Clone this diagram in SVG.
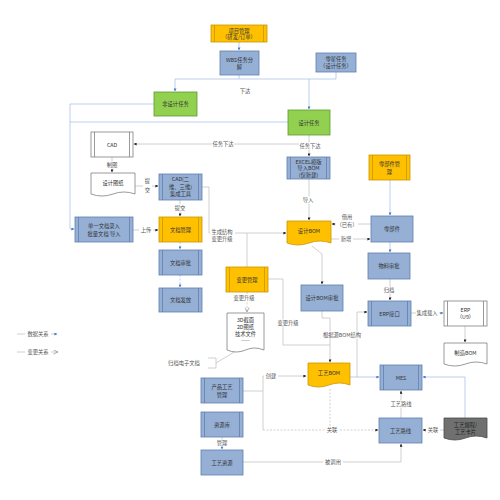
<svg xmlns="http://www.w3.org/2000/svg" width="500" height="500" viewBox="0 0 500 500">
<style>
text{font-family:"Noto Sans CJK SC","Liberation Sans",sans-serif;font-size:5.3px;fill:#333;text-anchor:middle;dominant-baseline:central}
.b{fill:#95afd5;stroke:#5f7fae;stroke-width:0.8}
.o{fill:#ffc000;stroke:#c99700;stroke-width:0.8}
.g{fill:#92d050;stroke:#5f9a30;stroke-width:0.8}
.w{fill:#fff;stroke:#808080;stroke-width:0.8}
.k{fill:#707070;stroke:#4a4a4a;stroke-width:0.8}
.bar{stroke-width:0.8;fill:none}
.c{fill:none;stroke:#c4c4c4;stroke-width:0.8}
.cb{fill:none;stroke:#a9c3e6;stroke-width:0.8}
.d{stroke-dasharray:2 1.5}
.lb{fill:#555}
.bg{fill:#fff;stroke:none}
</style>
<defs>
<marker id="dot" viewBox="0 0 4 4" refX="3.5" refY="2" markerWidth="3" markerHeight="3" orient="auto" markerUnits="userSpaceOnUse"><path d="M0,0 L4,2 L0,4 Z" fill="#222"/></marker>
<marker id="blu" viewBox="0 0 4 4" refX="3.5" refY="2" markerWidth="3" markerHeight="3" orient="auto" markerUnits="userSpaceOnUse"><path d="M0,0 L4,2 L0,4 Z" fill="#4a78c8"/></marker>
<marker id="opn" viewBox="0 0 6 6" refX="5.5" refY="3" markerWidth="5" markerHeight="5" orient="auto" markerUnits="userSpaceOnUse"><path d="M0,0.5 L5.5,3 L0,5.5" fill="none" stroke="#888" stroke-width="0.8"/></marker>
</defs>

<g id="connectors">
<polyline class="cb" points="239,42 239,50" marker-end="url(#blu)"/>
<polyline class="cb" points="239,75 239,79"/>
<polyline class="cb" points="175,79 336,79"/>
<polyline class="cb" points="336,72 336,79"/>
<polyline class="cb" points="175,79 175,91" marker-end="url(#blu)"/>
<polyline class="cb" points="309,79 309,109" marker-end="url(#blu)"/>
<polyline class="cb" points="154,104 70,104 70,229 74,229" marker-end="url(#blu)"/>
<polyline class="cb" points="288,122 70,122"/>
<polyline class="c" points="309,135 309,156" marker-end="url(#dot)"/>
<polyline class="c" points="309,144 134,144" marker-end="url(#dot)"/>
<polyline class="c" points="112,157 112,172" marker-end="url(#dot)"/>
<polyline class="c" points="135,186 158,186" marker-end="url(#dot)"/>
<polyline class="c" points="180,200 180,216" marker-end="url(#dot)"/>
<polyline class="c" points="133,230 158,230" marker-end="url(#dot)"/>
<polyline class="cb d" points="180,242 180,249" marker-end="url(#blu)"/>
<polyline class="cb d" points="180,275 180,287" marker-end="url(#blu)"/>
<polyline class="c" points="202,187 209,187 209,233 286,233" marker-end="url(#dot)"/>
<polyline class="c" points="247,267 247,233"/>
<polyline class="c" points="309,179 309,220" marker-end="url(#dot)"/>
<polyline class="cb" points="390,180 390,215" marker-end="url(#blu)"/>
<polyline class="c" points="371,224 332,224" marker-end="url(#dot)"/>
<polyline class="c" points="331,239 370,239" marker-end="url(#dot)"/>
<polyline class="cb" points="390,242 390,252" marker-end="url(#blu)"/>
<polyline class="c" points="390,279 390,300" marker-end="url(#dot)"/>
<polyline class="c" points="411,313 443,313" marker-end="url(#blu)"/>
<polyline class="c" points="465,326 465,342" marker-end="url(#dot)"/>
<polyline class="c" points="312,246 322,254 322,284" marker-end="url(#dot)"/>
<polyline class="c d" points="247,292 247,312" marker-end="url(#opn)"/>
<polyline class="c" points="268,279 283,279 283,345 330,345"/>
<polyline class="c" points="322,311 322,318 330,318 330,362" marker-end="url(#dot)"/>
<polyline class="c" points="243,391 263,391"/>
<polyline class="c" points="263,376 263,430"/>
<polyline class="c" points="263,376 306,376" marker-end="url(#dot)"/>
<polyline class="c d" points="263,430 378,430" marker-end="url(#dot)"/>
<polyline class="c d" points="330,389 330,430"/>
<polyline class="cb" points="350,377 379,377" marker-end="url(#blu)"/>
<polyline class="c" points="357,377 357,312 367,312" marker-end="url(#dot)"/>
<polyline class="c" points="401,418 401,391" marker-end="url(#dot)"/>
<polyline class="c" points="444,430 423,430" marker-end="url(#dot)"/>
<polyline class="cb" points="465,418 465,377 423,377" marker-end="url(#blu)"/>
<polyline class="cb" points="222,437 222,449" marker-end="url(#blu)"/>
<polyline class="c" points="243,462 401,462 401,444" marker-end="url(#dot)"/>
<path class="c" d="M208,358 H216 V368 H208 M216,363 L236,351"/>
</g>

<g id="labels">
<text x="245" y="91" class="lb">下达</text>
<rect class="bg" x="212" y="140.5" width="22" height="7"/><text x="223" y="144" class="lb">任务下达</text>
<rect class="bg" x="299" y="142.5" width="22" height="7"/><text x="310" y="146" class="lb">任务下达</text>
<rect class="bg" x="105" y="161.5" width="14" height="7"/><text x="112" y="165" class="lb">制图</text>
<rect class="bg" x="143" y="177" width="9" height="16"/><text x="147.5" y="181" class="lb">提</text><text x="147.5" y="190" class="lb">交</text>
<rect class="bg" x="173" y="204.5" width="14" height="7"/><text x="180" y="208" class="lb">提交</text>
<rect class="bg" x="139" y="226.5" width="14" height="7"/><text x="146" y="230" class="lb">上传</text>
<rect class="bg" x="210" y="228" width="25" height="14"/><text x="222" y="231.5" class="lb">生成结构</text><text x="222" y="238.5" class="lb">变更升级</text>
<rect class="bg" x="301" y="196.5" width="14" height="7"/><text x="308" y="200" class="lb">导入</text>
<rect class="bg" x="336" y="213" width="22" height="16"/><text x="347" y="217" class="lb">借用</text><text x="347" y="225" class="lb">（已有）</text>
<rect class="bg" x="339" y="235.5" width="14" height="7"/><text x="346" y="239" class="lb">新增</text>
<rect class="bg" x="382" y="286.5" width="15" height="7"/><text x="389" y="290" class="lb">归档</text>
<rect class="bg" x="416" y="309.5" width="23" height="7"/><text x="427" y="313" class="lb">集成载入</text>
<rect class="bg" x="232" y="294.5" width="25" height="7"/><text x="244" y="298" class="lb">变更升级</text>
<rect class="bg" x="276" y="319.5" width="25" height="7"/><text x="288" y="323" class="lb">变更升级</text>
<rect class="bg" x="320" y="331.5" width="45" height="7"/><text x="342" y="335" class="lb">根据源BOM结构</text>
<text x="184" y="363" class="lb">归档电子文档</text>
<rect class="bg" x="264" y="372.5" width="14" height="7"/><text x="271" y="376" class="lb">创建</text>
<rect class="bg" x="325" y="426.5" width="14" height="7"/><text x="332" y="430" class="lb">关联</text>
<rect class="bg" x="426" y="426.5" width="14" height="7"/><text x="433" y="430" class="lb">关联</text>
<rect class="bg" x="389" y="400.5" width="24" height="7"/><text x="401" y="404" class="lb">工艺路线</text>
<rect class="bg" x="215" y="439.5" width="14" height="7"/><text x="222" y="443" class="lb">管理</text>
<rect class="bg" x="323" y="458.5" width="20" height="7"/><text x="333" y="462" class="lb">被调用</text>
</g>

<g id="legend">
<line class="c" x1="17" y1="334" x2="25" y2="334"/><text x="38" y="334" class="lb">数据关系</text><line class="c" x1="51" y1="334" x2="57" y2="334" marker-end="url(#blu)"/>
<line class="c" x1="17" y1="352" x2="25" y2="352"/><text x="38" y="352" class="lb">变更关系</text><line class="c" x1="51" y1="352" x2="58" y2="352" marker-end="url(#opn)"/>
</g>

<g id="n-xmgl"><rect class="o" x="211" y="25" width="56" height="17"/><path class="bar" stroke="#c99700" d="M214.5,25V42M263.5,25V42"/><text x="239" y="30.5">项目管理</text><text x="239" y="37">（研发/订单）</text></g>
<g id="n-wbs"><rect class="b" x="220" y="51" width="39" height="24"/><text x="239.5" y="59.5">WBS任务分</text><text x="239.5" y="67">解</text></g>
<g id="n-lxrw"><rect class="b" x="316" y="53" width="40" height="19"/><text x="336" y="59">零星任务</text><text x="336" y="66">（设计任务）</text></g>
<g id="n-fsjrw"><rect class="g" x="154" y="92" width="43" height="24"/><text x="175.5" y="104">非设计任务</text></g>
<g id="n-sjrw"><rect class="g" x="288" y="110" width="42" height="25"/><text x="309" y="122.5">设计任务</text></g>
<g id="n-cad"><rect class="w" x="91" y="132" width="42" height="25"/><path class="bar" stroke="#808080" d="M94.5,132V157M129.5,132V157"/><text x="112" y="144.5">CAD</text></g>
<g id="n-sjtz"><path class="w" d="M91,173H135V194Q124,190 113,194T91,194Z"/><text x="113" y="183">设计图纸</text></g>
<g id="n-cadtool"><rect class="b" x="159" y="174" width="43" height="26"/><path class="bar" stroke="#5f7fae" d="M162.5,174V200M198.5,174V200"/><text x="180.5" y="179">CAD(二</text><text x="180.5" y="186.5">维、三维)</text><text x="180.5" y="194">集成工具</text></g>
<g id="n-dydr"><rect class="b" x="75" y="217" width="58" height="25"/><path class="bar" stroke="#5f7fae" d="M78.5,217V242M129.5,217V242"/><text x="104" y="226">单一文档录入</text><text x="104" y="233.5">批量文档 导入</text></g>
<g id="n-wdgl"><rect class="o" x="159" y="217" width="43" height="25"/><path class="bar" stroke="#c99700" d="M162.5,217V242M198.5,217V242"/><text x="180.5" y="229.5">文档管理</text></g>
<g id="n-wdsp"><rect class="b" x="159" y="250" width="43" height="25"/><path class="bar" stroke="#5f7fae" d="M162.5,250V275M198.5,250V275"/><text x="180.5" y="262.5">文档审批</text></g>
<g id="n-wdff"><rect class="b" x="159" y="288" width="43" height="24"/><path class="bar" stroke="#5f7fae" d="M162.5,288V312M198.5,288V312"/><text x="180.5" y="300">文档发放</text></g>
<g id="n-excel"><rect class="b" x="287" y="157" width="43" height="22"/><path class="bar" stroke="#5f7fae" d="M290.5,157V179M326.5,157V179"/><text x="308.5" y="161.5">EXCEL模版</text><text x="308.5" y="168">导入BOM</text><text x="308.5" y="174.5">(仅新建)</text></g>
<g id="n-sjbom"><path class="o" d="M287,221H331V243Q320,239 309,243T287,243Z"/><text x="309" y="231">设计BOM</text></g>
<g id="n-lbjgl"><rect class="o" x="369" y="155" width="41" height="25"/><path class="bar" stroke="#c99700" d="M372.5,155V180M406.5,155V180"/><text x="389.5" y="164">零部件管</text><text x="389.5" y="171.5">理</text></g>
<g id="n-lbj"><rect class="b" x="371" y="216" width="42" height="26"/><text x="392" y="229">零部件</text></g>
<g id="n-wlsp"><rect class="b" x="368" y="253" width="42" height="26"/><text x="389" y="266">物料审批</text></g>
<g id="n-erpjk"><rect class="b" x="368" y="301" width="43" height="25"/><path class="bar" stroke="#5f7fae" d="M371.5,301V326M407.5,301V326"/><text x="389.5" y="313.5">ERP接口</text></g>
<g id="n-erp"><rect class="w" x="444" y="301" width="43" height="25"/><path class="bar" stroke="#808080" d="M447.5,301V326M483.5,301V326"/><text x="465.5" y="309.5">ERP</text><text x="465.5" y="317">（U9）</text></g>
<g id="n-zzbom"><path class="w" d="M444,343H487V364Q476,360 465.5,364T444,364Z"/><text x="465.5" y="353">制造BOM</text></g>
<g id="n-bggl"><rect class="o" x="226" y="267" width="42" height="25"/><path class="bar" stroke="#c99700" d="M229.5,267V292M264.5,267V292"/><text x="247" y="279.5">变更管理</text></g>
<g id="n-sjbomsp"><rect class="b" x="301" y="285" width="42" height="26"/><text x="322" y="298">设计BOM审批</text></g>
<g id="n-3d"><path class="w" d="M227,313H264V350Q254.5,346 245.5,350T227,350Z"/><text x="245.5" y="319.5">3D截面</text><text x="245.5" y="326.5">2D图纸</text><text x="245.5" y="333.5">技术文件</text><text x="245.5" y="340">——</text></g>
<g id="n-gybom"><path class="o" d="M308,363H350V385Q339.5,381 329,385T308,385Z"/><text x="329" y="373">工艺BOM</text></g>
<g id="n-cpgy"><rect class="b" x="201" y="378" width="42" height="25"/><path class="bar" stroke="#5f7fae" d="M204.5,378V403M239.5,378V403"/><text x="222" y="387">产品工艺</text><text x="222" y="394.5">管理</text></g>
<g id="n-zyk"><rect class="b" x="201" y="412" width="42" height="25"/><path class="bar" stroke="#5f7fae" d="M204.5,412V437M239.5,412V437"/><text x="222" y="424.5">资源库</text></g>
<g id="n-gyzy"><rect class="b" x="201" y="450" width="42" height="25"/><text x="222" y="462.5">工艺资源</text></g>
<g id="n-mes"><rect class="b" x="380" y="365" width="42" height="25"/><path class="bar" stroke="#5f7fae" d="M383.5,365V390M418.5,365V390"/><text x="401" y="377.5">MES</text></g>
<g id="n-gylx"><rect class="b" x="379" y="418" width="43" height="25"/><text x="400.5" y="430.5">工艺路线</text></g>
<g id="n-gygc"><path class="k" d="M444,418H487V438Q476,434 465.5,438T444,438Z"/><text x="465.5" y="424.5" style="fill:#1e1e1e">工艺规程/</text><text x="465.5" y="431.5" style="fill:#1e1e1e">工艺卡片</text></g>
</svg>
